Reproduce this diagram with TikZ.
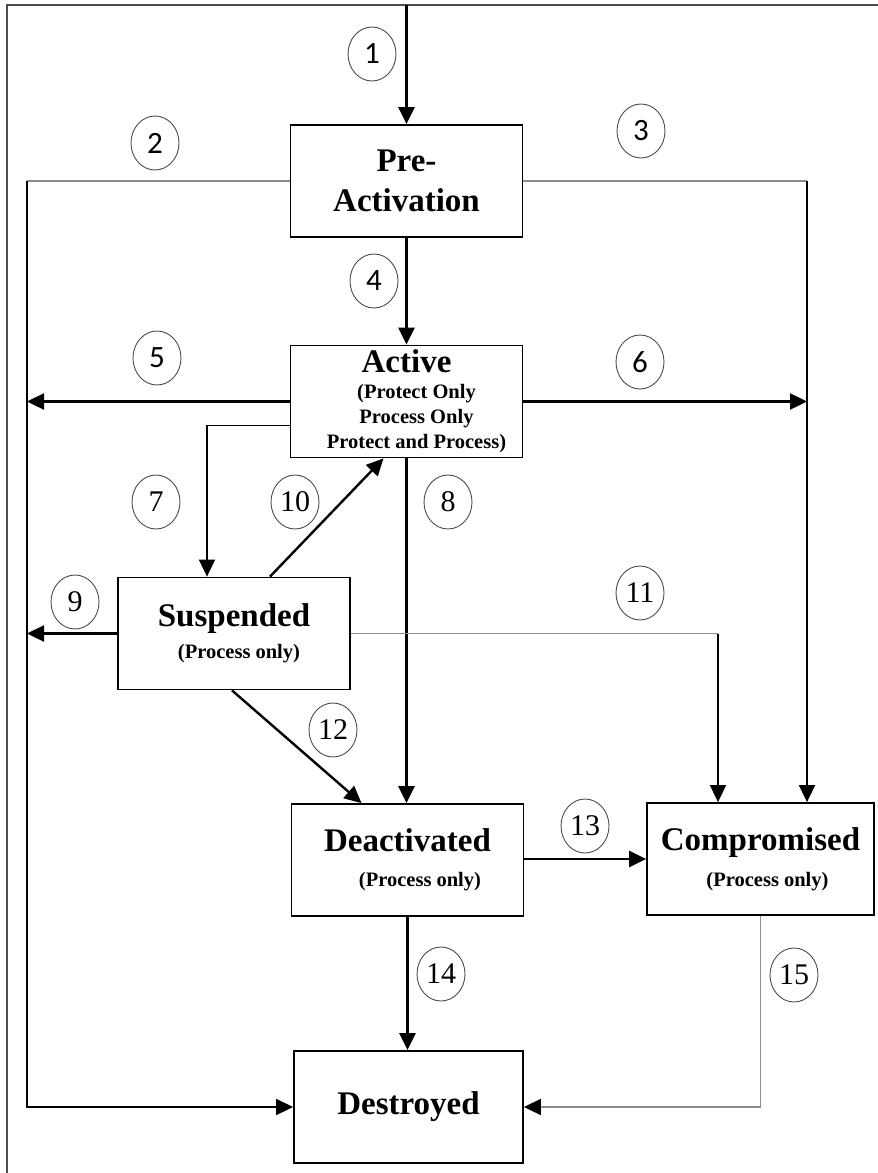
\documentclass[tikz,border=0pt]{standalone}
\usepackage{fontspec}
\setmainfont{Liberation Serif}
\newfontfamily\calib{Carlito}
\usetikzlibrary{arrows.meta, shapes.geometric}
\newcommand{\proc}[1]{{\fontsize{20.5}{25}\selectfont #1}}

\begin{document}
\begin{tikzpicture}[x=1pt, y=-1pt,
	state/.style = {draw, line width=1.8pt, minimum width=232pt, minimum height=112pt, inner sep=0pt, align=center, font=\bfseries\fontsize{33}{40}\selectfont},
	num/.style = {draw=black!70, line width=0.9pt, ellipse, minimum width=48pt, minimum height=54pt, inner sep=0pt, font=\fontsize{30}{30}\selectfont},
	numc/.style = {num, font=\calib\fontsize{31}{30}\selectfont},
	go/.style = {line width=2.4pt, -{Triangle[length=17pt, width=16pt]}},
	lineto/.style = {line width=1.7pt, -{Triangle[length=17pt, width=16pt]}},
	greyline/.style = {line width=1.7pt, black!45},
	greyto/.style = {greyline, -{Triangle[length=17pt, width=16pt, color=black]}}]
	\useasboundingbox (0,0) rectangle (878,1173);
	\clip (0,0) rectangle (878,1173);
	\draw[line width=1.8pt, black!70] (7,1180) -- (7,5) -- (885,5);

	% states
	\node[state] (pre) at (406.5,181) {Pre-\\Activation};
	\node[state] (act) at (406.5,401.5) {Active\\[-14pt]\hspace*{20pt}\proc{(Protect Only}\\[-15pt]\hspace*{20pt}\proc{Process Only}\\[-15pt]\hspace*{20pt}\proc{Protect and Process)}};
	\node[state] (sus) at (234,633.5) {Suspended\\[-8pt]\hspace*{10pt}\proc{(Process only)}};
	\node[state] (deact) at (407.5,860) {Deactivated\\[-5pt]\hspace*{25pt}\proc{(Process only)}};
	\node[state, minimum width=227pt] (comp) at (760.5,859) {Compromised\\[-4pt]\hspace*{14pt}\proc{(Process only)}};
	\node[state, minimum width=229pt] (dest) at (408.5,1107) {Destroyed};

	% rails
	\coordinate (start) at (406.5,5);
	\coordinate (lrail) at (27,0);
	\coordinate (mrail) at (718,0);
	\coordinate (rrail) at (807,0);

	% transitions
	\draw[go] (start) -- (pre.north);
	\draw[greyline] (pre.west) -- (pre.west -| lrail);
	\draw[lineto] (pre.west -| lrail) |- (dest.west);
	\draw[greyline] (pre.east) -- (pre.east -| rrail);
	\draw[lineto] (pre.east -| rrail) -- (comp.north -| rrail);
	\draw[go] (pre.south) -- (act.north);
	\draw[go] (act.west) -- (act.west -| lrail);
	\draw[go] (act.east) -- (act.east -| rrail);
	\draw[lineto] ([yshift=-24pt]act.west) -| ([xshift=-27pt]sus.north);
	\draw[go] (act.south) -- (act.south |- deact.north);
	\draw[go] (sus.west) -- (sus.west -| lrail);
	\draw[go] ([xshift=36pt]sus.north) -- ([xshift=-23pt]act.south);
	\draw[greyline] (sus.east) -- (sus.east -| mrail);
	\draw[lineto] (sus.east -| mrail) -- (comp.north -| mrail);
	\draw[go] ([xshift=-2pt]sus.south) -- ([xshift=-46pt]deact.north);
	\draw[go] (deact.east |- comp.west) -- (comp.west);
	\draw[go] (deact.south) -- (deact.south |- dest.north);
	\draw[greyto] (comp.south) |- (dest.east);

	% numbers
	\node[numc] (n1) at (372,54) {1};
	\node[numc] (n2) at (155,143) {2};
	\node[numc] (n3) at (641,131) {3};
	\node[numc] (n4) at (374,281) {4};
	\node[numc] (n5) at (157,358) {5};
	\node[numc] (n6) at (640,362) {6};
	\node[num] (n7) at (156,502) {7};
	\node[num] (n8) at (448,502) {8};
	\node[num] (n9) at (75,602) {9};
	\node[num] (n10) at (295,502) {10};
	\node[num] (n11) at (640,593) {11};
	\node[num] (n12) at (333,730) {12};
	\node[num] (n13) at (585,826) {13};
	\node[num] (n14) at (441,974) {14};
	\node[num] (n15) at (794,975) {15};
\end{tikzpicture}
\end{document}
